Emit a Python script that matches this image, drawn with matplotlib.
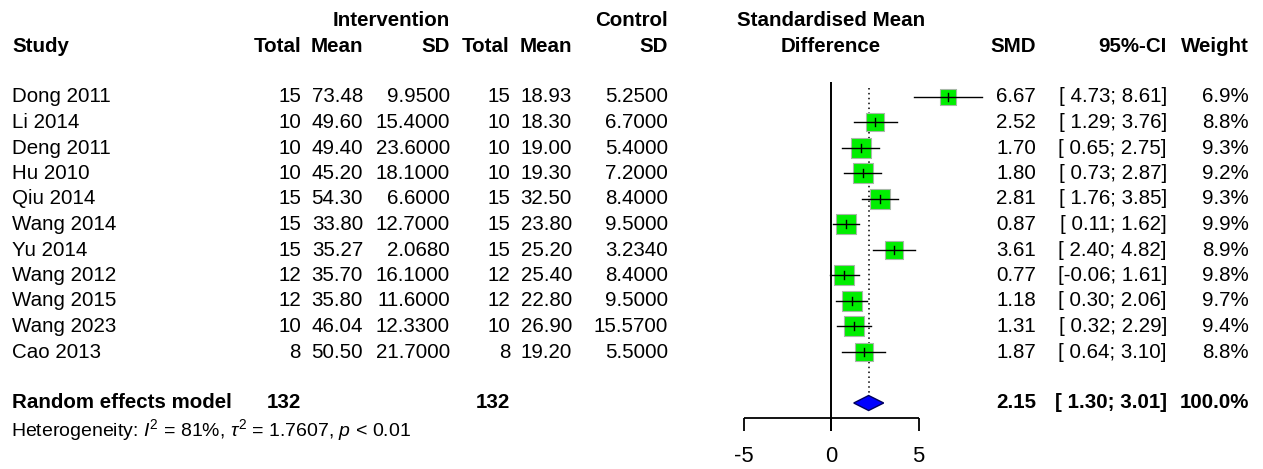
import numpy as np
import matplotlib
matplotlib.use("Agg")
import matplotlib.pyplot as plt

plt.rcParams['font.family'] = ['Liberation Sans', 'DejaVu Sans']
plt.rcParams['mathtext.fontset'] = 'custom'
plt.rcParams['mathtext.rm'] = 'Liberation Sans'
plt.rcParams['mathtext.it'] = 'Liberation Sans:italic'
plt.rcParams['mathtext.bf'] = 'Liberation Sans:bold'
plt.rcParams['axes.unicode_minus'] = False

# ---------------- data ----------------
studies = ["Dong 2011", "Li 2014", "Deng 2011", "Hu 2010", "Qiu 2014", "Wang 2014",
           "Yu 2014", "Wang 2012", "Wang 2015", "Wang 2023", "Cao 2013"]
int_total = [15, 10, 10, 10, 15, 15, 15, 12, 12, 10, 8]
int_mean = [73.48, 49.60, 49.40, 45.20, 54.30, 33.80, 35.27, 35.70, 35.80, 46.04, 50.50]
int_sd = [9.95, 15.40, 23.60, 18.10, 6.60, 12.70, 2.068, 16.10, 11.60, 12.33, 21.70]
ctl_total = [15, 10, 10, 10, 15, 15, 15, 12, 12, 10, 8]
ctl_mean = [18.93, 18.30, 19.00, 19.30, 32.50, 23.80, 25.20, 25.40, 22.80, 26.90, 19.20]
ctl_sd = [5.25, 6.70, 5.40, 7.20, 8.40, 9.50, 3.234, 8.40, 9.50, 15.57, 5.50]
smd = [6.67, 2.52, 1.70, 1.80, 2.81, 0.87, 3.61, 0.77, 1.18, 1.31, 1.87]
ci_lo = [4.73, 1.29, 0.65, 0.73, 1.76, 0.11, 2.40, -0.06, 0.30, 0.32, 0.64]
ci_hi = [8.61, 3.76, 2.75, 2.87, 3.85, 1.62, 4.82, 1.61, 2.06, 2.29, 3.10]
weight = [6.9, 8.8, 9.3, 9.2, 9.3, 9.9, 8.9, 9.8, 9.7, 9.4, 8.8]

pooled_label = "Random effects model"
pooled_int_total = 132
pooled_ctl_total = 132
pooled_smd = 2.15
pooled_lo = 1.30
pooled_hi = 3.01
pooled_weight = 100.0
het_text = r"Heterogeneity: $I^2$ = 81%, $\tau^2$ = 1.7607, $p$ < 0.01"
axis_ticks = [-5, 0, 5]

# ---------------- layout ----------------
W, H = 1263, 469
fig = plt.figure(figsize=(W / 100, H / 100), dpi=100)
fig.patch.set_facecolor('white')

# text axes in pixel coordinates
axt = fig.add_axes([0, 0, 1, 1])
axt.set_xlim(0, W)
axt.set_ylim(H, 0)
axt.axis('off')

# forest axes: x in SMD units (0 at px 831, 17.5 px per unit)
x0_px, unit_px = 831.0, 17.5
axf = fig.add_axes([0, 0, 1, 1])
axf.set_xlim(-x0_px / unit_px, (W - x0_px) / unit_px)
axf.set_ylim(H, 0)
axf.axis('off')
axf.patch.set_alpha(0)

FS = 14.8
row0, drow = 97.0, 25.5
rows_y = [row0 + i * drow for i in range(len(studies))]
y_head1, y_head2 = 20.0, 46.0
y_pool = rows_y[-1] + 2 * drow
y_het = y_pool + drow + 2

# column right edges (px)
c_study = 12
c_itot, c_imean, c_isd = 301, 363, 450
c_ctot, c_cmean, c_csd = 510, 572, 668
c_smd, c_ci, c_w = 1036, 1167, 1249


def txt(x, y, s, ha='right', bold=False, size=FS):
    axt.text(x, y, s, ha=ha, va='center', fontsize=size,
             fontweight='bold' if bold else 'normal', color='black')


# headers
txt(c_isd, y_head1, "Intervention", bold=True)
txt(c_csd, y_head1, "Control", bold=True)
txt(x0_px, y_head1, "Standardised Mean", ha='center', bold=True)
txt(x0_px, y_head2, "Difference", ha='center', bold=True)
txt(c_study, y_head2, "Study", ha='left', bold=True)
for x, s in [(c_itot, "Total"), (c_imean, "Mean"), (c_isd, "SD"),
             (c_ctot, "Total"), (c_cmean, "Mean"), (c_csd, "SD"),
             (c_smd, "SMD"), (c_ci, "95%-CI"), (c_w, "Weight")]:
    txt(x, y_head2, s, bold=True)


def fmt_ci(lo, hi):
    lo_s = f"{lo:.2f}"
    if lo >= 0:
        lo_s = " " + lo_s
    return f"[{lo_s}; {hi:.2f}]"


for i, y in enumerate(rows_y):
    txt(c_study, y, studies[i], ha='left')
    txt(c_itot, y, f"{int_total[i]}")
    txt(c_imean, y, f"{int_mean[i]:.2f}")
    txt(c_isd, y, f"{int_sd[i]:.4f}")
    txt(c_ctot, y, f"{ctl_total[i]}")
    txt(c_cmean, y, f"{ctl_mean[i]:.2f}")
    txt(c_csd, y, f"{ctl_sd[i]:.4f}")
    txt(c_smd, y, f"{smd[i]:.2f}")
    txt(c_ci, y, fmt_ci(ci_lo[i], ci_hi[i]))
    txt(c_w, y, f"{weight[i]:.1f}%")

# pooled row
txt(c_study, y_pool, pooled_label, ha='left', bold=True)
txt(c_itot, y_pool, f"{pooled_int_total}", bold=True)
txt(c_ctot, y_pool, f"{pooled_ctl_total}", bold=True)
txt(c_smd, y_pool, f"{pooled_smd:.2f}", bold=True)
txt(c_ci, y_pool, fmt_ci(pooled_lo, pooled_hi), bold=True)
txt(c_w, y_pool, f"{pooled_weight:.1f}%", bold=True)
txt(c_study - 1, y_het, het_text, ha='left', size=FS - 0.8)

# ---------------- forest ----------------
px2pt = 0.72
y_axis = 418.0
tick_len = 13.0
diam_half = 7.5

# zero line
axf.plot([0, 0], [rows_y[0] - 15, y_axis + tick_len], color='black', lw=1.4,
         solid_capstyle='butt', zorder=2)
# pooled estimate dotted line
axf.plot([pooled_smd, pooled_smd], [rows_y[0] - 9, y_pool - diam_half], color='black',
         lw=1.1, ls=(0, (1, 2.2)), zorder=2)

for i, y in enumerate(rows_y):
    side = 20.0 * np.sqrt(weight[i] / 10.0) * px2pt
    axf.scatter([smd[i]], [y], marker='s', s=side ** 2, facecolor='#00ee00',
                edgecolor='#a8b8a8', linewidths=0.8, zorder=3)
    axf.plot([ci_lo[i], ci_hi[i]], [y, y], color='black', lw=1.0, zorder=4)
    axf.plot([smd[i], smd[i]], [y - 4, y + 4], color='black', lw=1.0, zorder=4)

# diamond
axf.fill([pooled_lo, pooled_smd, pooled_hi, pooled_smd],
         [y_pool, y_pool - diam_half, y_pool, y_pool + diam_half],
         facecolor='#0000ff', edgecolor='#000060', lw=1.0, zorder=4)

# x axis
axf.plot([axis_ticks[0], axis_ticks[-1]], [y_axis, y_axis], color='black', lw=1.3,
         solid_capstyle='butt')
for t in axis_ticks:
    axf.plot([t, t], [y_axis, y_axis + tick_len], color='black', lw=1.3,
             solid_capstyle='butt')
    axf.text(t, 457, f"{t}", ha='center', va='center', fontsize=FS + 1.0)

fig.savefig("out.png", dpi=100, facecolor='white')
